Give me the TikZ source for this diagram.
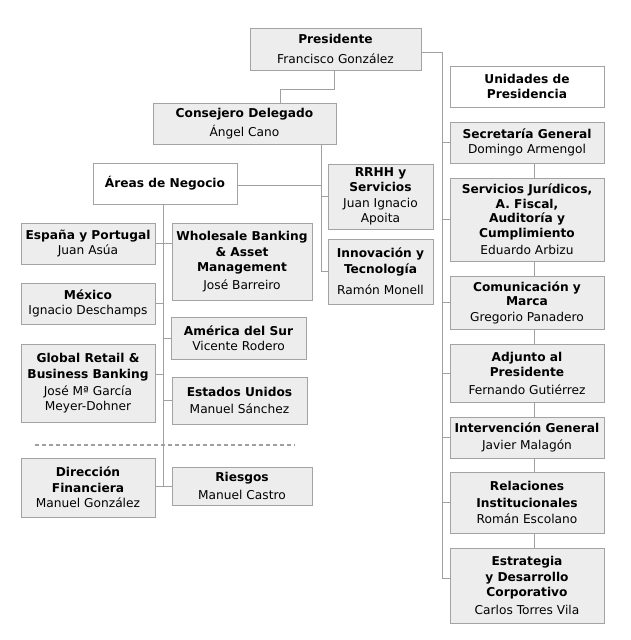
\documentclass[tikz,border=0pt]{standalone}
\usepackage{fontspec}
\setmainfont{DejaVu Sans}
\definecolor{boxfill}{HTML}{EDEDED}
\definecolor{boxline}{HTML}{A3A3A3}
\definecolor{conn}{HTML}{A0A0A0}
\definecolor{txt}{HTML}{000000}
\tikzset{
  orgbox/.style={draw=boxline, fill=boxfill, line width=1pt, inner sep=0pt, align=center, text=txt, font=\fontsize{12.2}{15.5}\selectfont},
  whitebox/.style={orgbox, fill=white},
  link/.style={draw=conn, line width=1pt},
  sepline/.style={draw=conn, line width=1.5pt, dash pattern=on 4pt off 3pt}
}
\begin{document}
\begin{tikzpicture}[x=1pt,y=-1pt]
\fill[white] (0,0) rectangle (630,640);
\useasboundingbox (0,0) rectangle (630,640);

% top
\node[orgbox, minimum width=171pt, minimum height=42pt] (pres) at (335.5,49) {\textbf{Presidente}\\[4pt]Francisco González};
\node[orgbox, minimum width=183pt, minimum height=41pt] (cons) at (244.5,123.5) {\textbf{Consejero Delegado}\\[3pt]Ángel Cano};
\node[whitebox, minimum width=144pt, minimum height=41pt] (areas) at (165,183.5) {\textbf{Áreas de Negocio}};
\node[orgbox, minimum width=105pt, minimum height=65pt] (rrhh) at (380.5,196.5) {\textbf{RRHH y}\\\textbf{Servicios}\\Juan Ignacio\\Apoita};
\node[orgbox, minimum width=105pt, minimum height=65pt] (innov) at (380.5,271.5) {\textbf{Innovación y}\\\textbf{Tecnología}\\[6pt]Ramón Monell};

% right column
\node[whitebox, minimum width=154pt, minimum height=41pt] (unid) at (527,86.5) {\textbf{Unidades de}\\\textbf{Presidencia}};
\node[orgbox, minimum width=154pt, minimum height=41pt] (secr) at (527,142.5) {\textbf{Secretaría General}\\Domingo Armengol};
\node[orgbox, minimum width=154pt, minimum height=83pt] (juri) at (527,219.5) {\textbf{Servicios Jurídicos,}\\[-1pt]\textbf{A. Fiscal,}\\[-1pt]\textbf{Auditoría y}\\[-1pt]\textbf{Cumplimiento}\\[2pt]Eduardo Arbizu};
\node[orgbox, minimum width=154pt, minimum height=53pt] (comu) at (527,302.5) {\textbf{Comunicación y}\\[-1pt]\textbf{Marca}\\Gregorio Panadero};
\node[orgbox, minimum width=154pt, minimum height=58pt] (adju) at (527,373) {\textbf{Adjunto al}\\\textbf{Presidente}\\[2pt]Fernando Gutiérrez};
\node[orgbox, minimum width=154pt, minimum height=41pt] (inte) at (527,437.5) {\textbf{Intervención General}\\[2pt]Javier Malagón};
\node[orgbox, minimum width=154pt, minimum height=61pt] (rela) at (527,502.5) {\textbf{Relaciones}\\[1pt]\textbf{Institucionales}\\[1pt]Román Escolano};
\node[orgbox, minimum width=154pt, minimum height=75pt] (estr) at (527,585.5) {\textbf{Estrategia}\\\textbf{y Desarrollo}\\\textbf{Corporativo}\\[2pt]Carlos Torres Vila};

% business areas
\node[orgbox, minimum width=134pt, minimum height=41pt] (espa) at (88,243.5) {\textbf{España y Portugal}\\Juan Asúa};
\node[orgbox, minimum width=140pt, minimum height=77pt] (whol) at (242,261.5) {\textbf{Wholesale Banking}\\\textbf{\& Asset}\\\textbf{Management}\\[2pt]José Barreiro};
\node[orgbox, minimum width=134pt, minimum height=41pt] (mexi) at (88,303.5) {\textbf{México}\\Ignacio Deschamps};
\node[orgbox, minimum width=135pt, minimum height=42pt] (amer) at (238.5,338) {\textbf{América del Sur}\\Vicente Rodero};
\node[orgbox, minimum width=134pt, minimum height=78pt] (glob) at (88,383) {\textbf{Global Retail \&}\\[1pt]\textbf{Business Banking}\\[1pt]José Mª García\\Meyer-Dohner};
\node[orgbox, minimum width=135pt, minimum height=47pt] (esta) at (239.5,400.5) {\textbf{Estados Unidos}\\[1pt]Manuel Sánchez};
\node[orgbox, minimum width=134pt, minimum height=59pt] (dire) at (88,487.5) {\textbf{Dirección}\\\textbf{Financiera}\\Manuel González};
\node[orgbox, minimum width=140pt, minimum height=38pt] (ries) at (242,486) {\textbf{Riesgos}\\[2pt]Manuel Castro};

% coordinates
\coordinate (rbot) at (442,578);
\coordinate (ctop) at ([xshift=76.5pt]cons.south);
\coordinate (abot) at (163,486);
\coordinate (dl) at (35,445);
\coordinate (dr) at (295,445);

% presidency trunk
\draw[link] ([yshift=-3pt]pres.east) -| (rbot) -- (rbot -| estr.west);
\foreach \b in {secr,juri,comu,adju,inte,rela}
  \draw[link] (\b.west) -- (\b.west -| rbot);
\draw[link] ([xshift=7pt]secr.south) -- ([xshift=7pt]juri.north);
\draw[link] ([xshift=7pt]juri.south) -- ([xshift=7pt]comu.north);
\draw[link] ([xshift=7pt]comu.south) -- ([xshift=7pt]adju.north);
\draw[link] ([xshift=7pt]adju.south) -- ([xshift=7pt]inte.north);
\draw[link] ([xshift=7pt]inte.south) -- ([xshift=7pt]rela.north);
\draw[link] ([xshift=7pt]rela.south) -- ([xshift=7pt]estr.north);

% president to CEO
\draw[link] ([xshift=-1.5pt]pres.south) -- ++(0,-19pt) -| ([xshift=35.5pt]cons.north);

% CEO branch
\draw[link] (ctop) |- (innov.west);
\draw[link] (rrhh.west) -- (rrhh.west -| ctop);
\draw[link] ([yshift=-2pt]areas.east) -- ([yshift=-2pt]areas.east -| ctop);

% business areas trunk
\draw[link] ([xshift=-2pt]areas.south) -- (abot);
\draw[link] (espa.east) -- (espa.east -| whol.west);
\draw[link] (mexi.east) -- (mexi.east -| abot);
\draw[link] (amer.west) -- (amer.west -| abot);
\draw[link] ([yshift=9pt]glob.east) -- ([yshift=9pt]glob.east -| abot);
\draw[link] (esta.west) -- (esta.west -| abot);
\draw[link] (abot -| dire.east) -- (abot -| ries.west);

% separator
\draw[sepline] (dl) -- (dr);
\end{tikzpicture}
\end{document}
